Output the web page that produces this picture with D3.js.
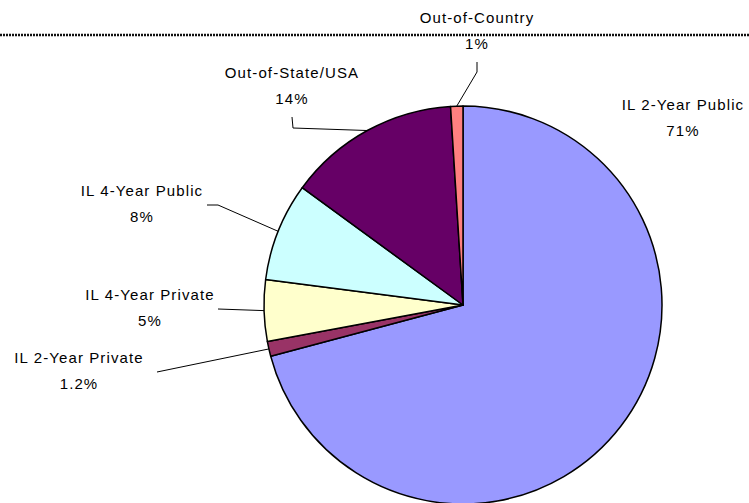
<!DOCTYPE html>
<html>
<head>
<meta charset="utf-8">
<script src="https://cdn.jsdelivr.net/npm/d3@7"></script>
<style>
  html, body { margin: 0; padding: 0; background: #fff; }
  svg { display: block; }
  text { font-family: "Liberation Sans", Arial, sans-serif; font-size: 15px; fill: #000; letter-spacing: 1.1px; }
</style>
</head>
<body>
<svg id="chart" width="749" height="503"></svg>
<script>
// Destination categories, in drawing order (clockwise from 12 o'clock)
const categories = ["IL 2-Year Public", "IL 2-Year Private", "IL 4-Year Private", "IL 4-Year Public", "Out-of-State/USA", "Out-of-Country"];
const values = [71, 1.2, 5, 8, 14, 1];
const valueLabels = ["71%", "1.2%", "5%", "8%", "14%", "1%"];
const colors = ["#9999FF", "#993366", "#FFFFCC", "#CCFFFF", "#660066", "#FF8080"];

const svg = d3.select("#chart");
const W = 749, H = 503;
const cx = 463, cy = 305, R = 199;

// dotted rule across the top
svg.append("line")
  .attr("x1", 0).attr("x2", W)
  .attr("y1", 35).attr("y2", 35)
  .attr("stroke", "#111")
  .attr("stroke-width", 2.5)
  .attr("stroke-dasharray", "2,1");

const pie = d3.pie().sort(null).value(d => d.v);
const data = categories.map((c, i) => ({ c, v: values[i], lbl: valueLabels[i], col: colors[i] }));
const arcs = pie(data);
const arc = d3.arc().innerRadius(0).outerRadius(R);

const g = svg.append("g").attr("transform", `translate(${cx},${cy})`);
g.selectAll("path.slice")
  .data(arcs)
  .join("path")
  .attr("class", "slice")
  .attr("d", arc)
  .attr("fill", d => d.data.col)
  .attr("stroke", "#000")
  .attr("stroke-width", 1.5)
  .attr("stroke-linejoin", "round");

// Label placement: text centre x, first-line y, and leader elbow points
const labelLayout = {
  "IL 2-Year Public":  { x: 683, y: 110, leader: null },
  "IL 2-Year Private": { x: 79,  y: 363, leader: [[157, 372]] },
  "IL 4-Year Private": { x: 150, y: 300, leader: [[218, 309]] },
  "IL 4-Year Public":  { x: 142, y: 196, leader: [[218, 205], [207, 205]] },
  "Out-of-State/USA":  { x: 292, y: 78,  leader: [[293, 128], [292, 117]] },
  "Out-of-Country":    { x: 477, y: 23,  leader: [[477, 72], [477, 62]] }
};

const edgePoint = d => {
  const a = (d.startAngle + d.endAngle) / 2;
  return [cx + R * Math.sin(a), cy - R * Math.cos(a)];
};

const line = d3.line();
arcs.forEach(d => {
  const L = labelLayout[d.data.c];
  if (L.leader) {
    svg.append("path")
      .attr("d", line([edgePoint(d), ...L.leader]))
      .attr("fill", "none")
      .attr("stroke", "#000")
      .attr("stroke-width", 1);
  }
  const t = svg.append("text").attr("text-anchor", "middle");
  t.append("tspan").attr("x", L.x).attr("y", L.y).text(d.data.c);
  t.append("tspan").attr("x", L.x).attr("y", L.y + 25.5).text(d.data.lbl);
});
</script>
</body>
</html>
